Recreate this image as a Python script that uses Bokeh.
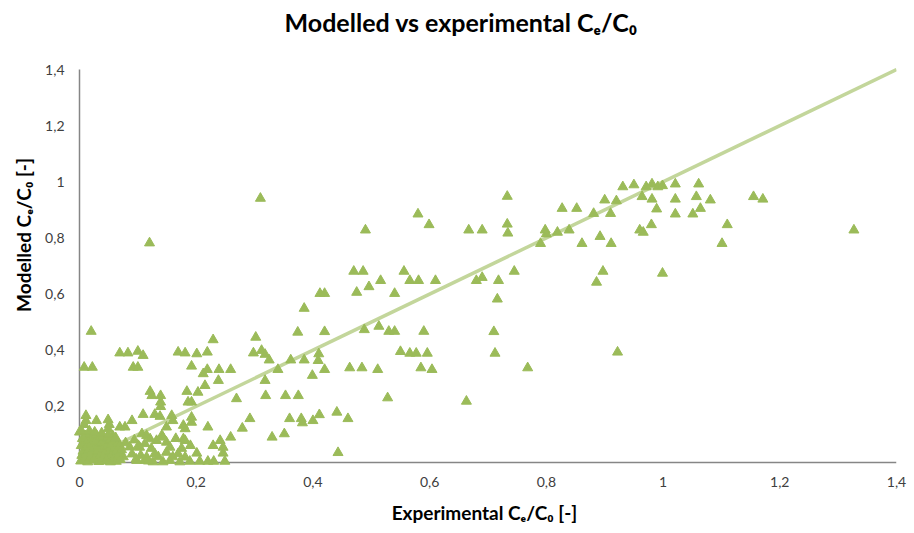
from bokeh.plotting import figure
from bokeh.models import Range1d, FixedTicker, CustomJSTickFormatter, Label
from bokeh.embed import file_html
from bokeh.resources import INLINE

# ---- data ----
exp_high = [0.971, 0.981, 0.991, 0.999, 1.021, 1.061, 0.964, 0.981, 1.021, 1.057, 1.081,
            0.989, 1.064, 1.021, 1.051, 1.155, 1.171, 0.980, 0.966, 1.110, 1.101, 1.327,
            0.999, 0.931, 0.950, 0.960, 0.922]
mod_high = [0.982, 0.992, 0.982, 0.986, 0.992, 0.992, 0.947, 0.938, 0.938, 0.947, 0.935,
            0.903, 0.905, 0.885, 0.885, 0.947, 0.938, 0.847, 0.820, 0.847, 0.780, 0.828,
            0.674, 0.982, 0.989, 0.828, 0.393]

exp_b = [0.733, 0.827, 0.852, 0.900, 0.920, 0.881, 0.910, 0.733, 0.734, 0.690, 0.798, 0.800,
         0.819, 0.839, 0.790, 0.861, 0.892, 0.911, 0.690, 0.718, 0.745, 0.716, 0.897, 0.886,
         0.710, 0.712, 0.768, 0.667, 0.680, 0.663]
mod_b = [0.948, 0.905, 0.905, 0.935, 0.932, 0.887, 0.887, 0.849, 0.817, 0.828, 0.828, 0.814,
         0.820, 0.828, 0.780, 0.780, 0.805, 0.780, 0.659, 0.648, 0.681, 0.582, 0.681, 0.642,
         0.466, 0.389, 0.337, 0.828, 0.648, 0.218]

exp_c = [0.580, 0.599, 0.490, 0.470, 0.486, 0.556, 0.566, 0.581, 0.610, 0.516, 0.496, 0.412,
         0.420, 0.475, 0.540, 0.420, 0.488, 0.513, 0.530, 0.540, 0.590, 0.410, 0.409, 0.420,
         0.399, 0.463, 0.484, 0.511, 0.550, 0.566, 0.577, 0.596, 0.585, 0.604, 0.528, 0.411,
         0.400, 0.441, 0.460, 0.443, 0.385, 0.385, 0.374]
mod_c = [0.885, 0.847, 0.828, 0.681, 0.681, 0.681, 0.648, 0.648, 0.648, 0.648, 0.626, 0.602,
         0.602, 0.606, 0.602, 0.466, 0.473, 0.485, 0.467, 0.467, 0.467, 0.387, 0.363, 0.331,
         0.310, 0.337, 0.337, 0.331, 0.395, 0.389, 0.389, 0.389, 0.337, 0.331, 0.230, 0.170,
         0.149, 0.179, 0.156, 0.035, 0.549, 0.365, 0.464]

exp_d = [0.310, 0.302, 0.298, 0.312, 0.318, 0.325, 0.340, 0.362, 0.318, 0.319, 0.353, 0.375,
         0.292, 0.360, 0.380, 0.382, 0.330, 0.351, 0.229, 0.201, 0.219, 0.192, 0.219, 0.212,
         0.239, 0.259, 0.238, 0.215, 0.203, 0.192, 0.269, 0.279, 0.220, 0.192, 0.192, 0.259,
         0.229, 0.241, 0.246, 0.246, 0.201, 0.189, 0.206, 0.220, 0.230, 0.249]
mod_d = [0.941, 0.446, 0.390, 0.399, 0.385, 0.365, 0.331, 0.365, 0.292, 0.238, 0.238, 0.238,
         0.156, 0.156, 0.156, 0.141, 0.090, 0.102, 0.437, 0.387, 0.393, 0.343, 0.331, 0.316,
         0.331, 0.331, 0.292, 0.274, 0.250, 0.215, 0.227, 0.122, 0.126, 0.161, 0.143, 0.090,
         0.060, 0.078, 0.054, 0.033, 0.033, 0.004, 0.004, 0.004, 0.004, 0.004]

exp_e = [0.020, 0.008, 0.022, 0.069, 0.083, 0.100, 0.109, 0.092, 0.100, 0.120, 0.169, 0.181,
         0.121, 0.139, 0.124, 0.139, 0.184, 0.186, 0.109, 0.129, 0.138, 0.158, 0.160, 0.149,
         0.181, 0.178, 0.139, 0.011, 0.011, 0.008, 0.029, 0.049, 0.051, 0.049, 0.069, 0.078,
         0.090, 0.000]
mod_e = [0.467, 0.339, 0.339, 0.390, 0.390, 0.396, 0.381, 0.339, 0.339, 0.782, 0.393, 0.390,
         0.253, 0.238, 0.238, 0.215, 0.253, 0.215, 0.171, 0.171, 0.164, 0.167, 0.149, 0.126,
         0.120, 0.132, 0.199, 0.167, 0.149, 0.135, 0.149, 0.152, 0.135, 0.120, 0.126, 0.126,
         0.149, 0.108]

exp_f = [0.107, 0.115, 0.121, 0.132, 0.143, 0.149, 0.155, 0.112, 0.103, 0.149, 0.129, 0.115,
         0.181, 0.178, 0.141, 0.169, 0.181, 0.155, 0.172, 0.143, 0.126, 0.112, 0.098, 0.075,
         0.079, 0.086, 0.090, 0.094, 0.097, 0.101, 0.105, 0.118, 0.123, 0.135, 0.165, 0.175,
         0.190, 0.160]
mod_f = [0.102, 0.096, 0.084, 0.078, 0.090, 0.072, 0.054, 0.067, 0.054, 0.036, 0.031, 0.019,
         0.078, 0.084, 0.096, 0.031, 0.019, 0.007, 0.002, 0.002, 0.002, 0.007, 0.007, 0.020,
         0.070, 0.055, 0.030, 0.080, 0.012, 0.060, 0.025, 0.005, 0.050, 0.020, 0.085, 0.050,
         0.060, 0.020]

exp_g = [0.002, 0.003, 0.004, 0.005, 0.006, 0.008, 0.009, 0.010, 0.011, 0.012, 0.014, 0.015,
         0.016, 0.018, 0.019, 0.020, 0.021, 0.023, 0.024, 0.025, 0.027, 0.028, 0.029, 0.031,
         0.032, 0.033, 0.035, 0.036, 0.037, 0.039, 0.040, 0.041, 0.043, 0.044, 0.045, 0.047,
         0.048, 0.049, 0.051, 0.052, 0.053, 0.055, 0.056, 0.057, 0.059, 0.060, 0.061, 0.063,
         0.064, 0.066, 0.067, 0.069, 0.070, 0.072, 0.004, 0.017, 0.026, 0.038, 0.050, 0.062]
mod_g = [0.005, 0.060, 0.025, 0.085, 0.040, 0.010, 0.070, 0.095, 0.030, 0.055, 0.002, 0.080,
         0.045, 0.100, 0.018, 0.065, 0.035, 0.090, 0.008, 0.050, 0.075, 0.022, 0.098, 0.040,
         0.060, 0.003, 0.085, 0.028, 0.068, 0.012, 0.092, 0.048, 0.030, 0.072, 0.005, 0.058,
         0.088, 0.020, 0.040, 0.078, 0.002, 0.065, 0.032, 0.095, 0.015, 0.052, 0.080, 0.004,
         0.042, 0.070, 0.025, 0.060, 0.010, 0.045, 0.110, 0.112, 0.108, 0.105, 0.100, 0.088]

experimental = exp_high + exp_b + exp_c + exp_d + exp_e + exp_f + exp_g
modelled = mod_high + mod_b + mod_c + mod_d + mod_e + mod_f + mod_g

tick_values = [0, 0.2, 0.4, 0.6, 0.8, 1.0, 1.2, 1.4]
tick_labels = ["0", "0,2", "0,4", "0,6", "0,8", "1", "1,2", "1,4"]

# 1:1 reference line across the axis extent
ref_x = [tick_values[0], tick_values[-1]]
ref_y = [tick_values[0], tick_values[-1]]

title_text = "Modelled vs experimental C\u2091/C\u2080"
x_label = "Experimental C\u2091/C\u2080 [-]"
y_label = "Modelled C\u2091/C\u2080 [-]"

FONT = "Lato"
MARKER = "#9bbb59"
LINE = "#c3d69b"
AXIS = "#868686"

# the frame reaches the top of the canvas so that the title can sit inside it
p = figure(width=914, height=533, output_backend="svg", toolbar_location=None,
           x_range=Range1d(-0.012, 1.4), y_range=Range1d(-0.025, 1.646),
           min_border_left=72, min_border_right=18, min_border_top=0, min_border_bottom=64)
p.outline_line_color = None
p.background_fill_color = "white"
p.border_fill_color = "white"
p.grid.visible = False

title = Label(x=0.654, y=tick_values[-1], x_units="data", y_units="data",
              y_offset=48, text=title_text, text_align="center", text_baseline="middle",
              text_font=FONT, text_font_size="25px", text_font_style="bold",
              text_color="#000000")
p.add_layout(title)

formatter = CustomJSTickFormatter(
    args=dict(tvals=tick_values, tlabels=tick_labels),
    code="""
    for (let i = 0; i < tvals.length; i++) {
        if (Math.abs(tvals[i] - tick) < 1e-9) { return tlabels[i]; }
    }
    return '';
    """)

for ax in (p.xaxis[0], p.yaxis[0]):
    ax.ticker = FixedTicker(ticks=tick_values)
    ax.formatter = formatter
    ax.axis_line_color = None
    ax.major_tick_line_color = None
    ax.minor_tick_line_color = None
    ax.major_tick_in = 0
    ax.major_tick_out = 0
    ax.major_label_text_font = FONT
    ax.major_label_text_font_size = "14px"
    ax.major_label_text_color = "#404040"
    ax.axis_label_text_font = FONT
    ax.axis_label_text_font_size = "19px"
    ax.axis_label_text_font_style = "bold"
    ax.axis_label_text_color = "#000000"

p.xaxis.axis_label = x_label
p.yaxis.axis_label = y_label
p.xaxis.major_label_standoff = 7
p.yaxis.major_label_standoff = 8
p.xaxis.axis_label_standoff = 11
p.yaxis.axis_label_standoff = 7

# axis lines drawn from the origin to the last tick
p.segment(x0=[tick_values[0], tick_values[0]], y0=[tick_values[0], tick_values[0]],
          x1=[tick_values[0], tick_values[-1]], y1=[tick_values[-1], tick_values[0]],
          line_color=AXIS, line_width=1.5)

p.line(ref_x, ref_y, line_color=LINE, line_width=3.5)

p.scatter(experimental, modelled, marker="triangle", size=10,
          fill_color=MARKER, line_color=MARKER, line_width=1)

open("out.html", "w").write(file_html(p, INLINE))
